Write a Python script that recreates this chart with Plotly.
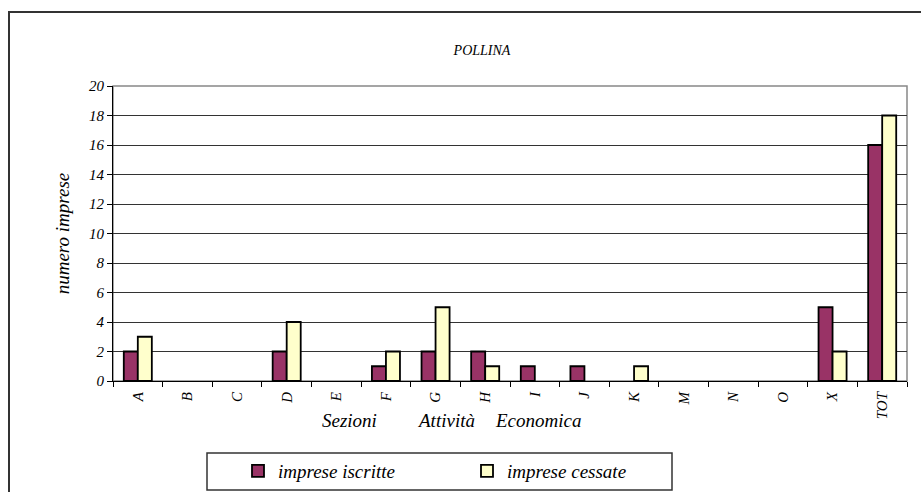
import plotly.graph_objects as go

categories = ["A", "B", "C", "D", "E", "F", "G", "H", "I", "J", "K", "M", "N", "O", "X", "TOT"]
iscritte = [2, 0, 0, 2, 0, 1, 2, 2, 1, 1, 0, 0, 0, 0, 5, 16]
cessate = [3, 0, 0, 4, 0, 2, 5, 1, 0, 0, 1, 0, 0, 0, 2, 18]
y_ticks = [0, 2, 4, 6, 8, 10, 12, 14, 16, 18, 20]

FONT = "Liberation Serif, Times New Roman, Times, serif"

def hide_zero(vals):
    return [v if v else None for v in vals]

fig = go.Figure()
fig.add_trace(go.Bar(x=categories, y=hide_zero(iscritte), name="imprese iscritte",
                     marker=dict(color="#993366", line=dict(color="black", width=1.8))))
fig.add_trace(go.Bar(x=categories, y=hide_zero(cessate), name="imprese cessate",
                     marker=dict(color="#FFFFCC", line=dict(color="black", width=1.8))))

L, R, T, B = 113, 14, 86, 111
W, H = 921, 492
pw, ph = W - L - R, H - T - B

def px2x(px):
    return (px - L) / pw

def py2y(py):
    return (H - B - py) / ph

fig.update_layout(
    width=W, height=H,
    margin=dict(l=L, r=R, t=T, b=B, autoexpand=False),
    paper_bgcolor="white", plot_bgcolor="white",
    barmode="group", bargap=0.435, bargroupgap=0,
    font=dict(family=FONT, size=14, color="black", style="italic"),
    title=dict(text="POLLINA", x=482 / W, xanchor="center",
               y=1 - 50 / H, yanchor="middle",
               font=dict(family=FONT, size=14, style="italic")),
    showlegend=True,
    legend=dict(orientation="h", x=px2x(238), y=py2y(471), xanchor="left", yanchor="middle",
                entrywidth=184, entrywidthmode="pixels",
                font=dict(family=FONT, size=19, style="italic"),
                bgcolor="rgba(0,0,0,0)", borderwidth=0),
)

fig.update_xaxes(
    type="category", tickangle=-90, ticks="outside", ticklen=5, tickcolor="black",
    tickson="boundaries", showline=True, linecolor="black", linewidth=1,
    tickfont=dict(family=FONT, size=15, style="italic"), automargin=False,
    ticklabelstandoff=4,
)
fig.update_yaxes(
    range=[0, 20], tickvals=y_ticks, ticks="outside", ticklen=5, tickcolor="black",
    showgrid=True, gridcolor="#333333", gridwidth=1, showline=True, linecolor="black",
    zeroline=False, automargin=False,
    tickfont=dict(family=FONT, size=15, style="italic"),
    title=dict(text="numero imprese", font=dict(family=FONT, size=19, style="italic"), standoff=14),
)

# plot area border (grey)
fig.add_shape(type="rect", xref="paper", yref="paper", x0=0, x1=1, y0=0, y1=1,
              line=dict(color="#888888", width=1.5), layer="below")
# outer chart border
fig.add_shape(type="rect", xref="paper", yref="paper", x0=px2x(9), x1=px2x(940),
              y0=py2y(510), y1=py2y(12), line=dict(color="#333333", width=2))
# legend box
fig.add_shape(type="rect", xref="paper", yref="paper", x0=px2x(207), x1=px2x(672),
              y0=py2y(490), y1=py2y(453), line=dict(color="#333333", width=1.5))

for txt, cx in [("Sezioni", 349), ("Attività", 446), ("Economica", 538)]:
    fig.add_annotation(text=txt, xref="paper", yref="paper", x=px2x(cx), y=py2y(420),
                       xanchor="center", yanchor="middle", showarrow=False,
                       font=dict(family=FONT, size=19, style="italic"))

fig.write_html("out.html", post_script="document.body.style.margin='0';",
               config={"displayModeBar": False})
